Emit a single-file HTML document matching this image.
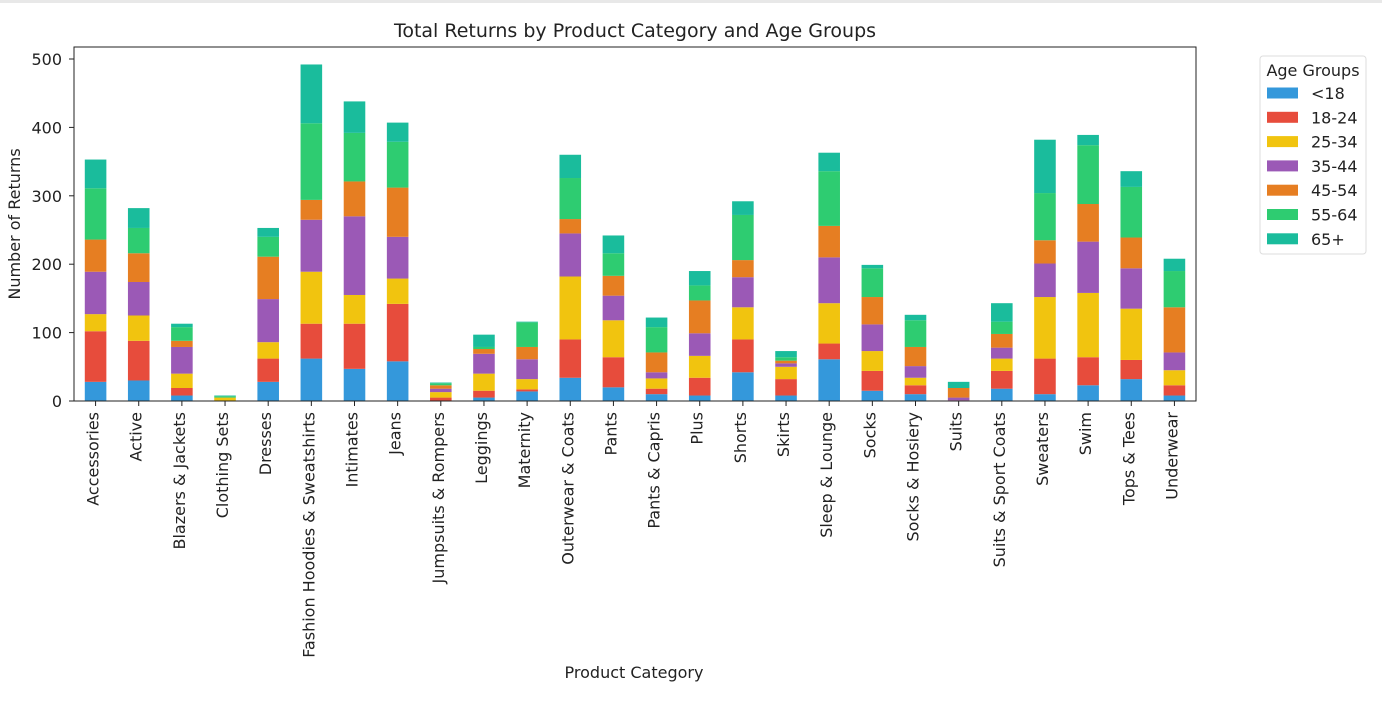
<!DOCTYPE html>
<html><head><meta charset="utf-8"><style>
body{margin:0;background:#fff;}
svg text{font-family:"DejaVu Sans","Liberation Sans",sans-serif;fill:#222;}
</style></head><body>
<div style="position:absolute;left:0;top:0;width:1382px;height:3px;background:#e8e8e8"></div>
<svg id="chart" width="1382" height="705" xmlns="http://www.w3.org/2000/svg"></svg>
<script>
const categories=["Accessories","Active","Blazers & Jackets","Clothing Sets","Dresses","Fashion Hoodies & Sweatshirts","Intimates","Jeans","Jumpsuits & Rompers","Leggings","Maternity","Outerwear & Coats","Pants","Pants & Capris","Plus","Shorts","Skirts","Sleep & Lounge","Socks","Socks & Hosiery","Suits","Suits & Sport Coats","Sweaters","Swim","Tops & Tees","Underwear"];
const seriesNames=["<18","18-24","25-34","35-44","45-54","55-64","65+"];
const sUnder18=[28,30,8,0,28,62,47,58,0,5,14,34,20,10,8,42,8,61,15,10,0,18,10,23,32,8];
const s18_24=[74,58,11,0,34,51,66,84,5,10,3,56,44,8,26,48,24,23,29,13,1,26,52,41,28,15];
const s25_34=[25,37,21,5,24,76,42,37,8,25,15,92,54,15,32,47,18,59,29,11,0,18,90,94,75,22];
const s35_44=[62,49,39,0,63,76,115,61,5,29,29,63,36,9,33,44,5,67,39,17,4,16,49,75,59,26];
const s45_54=[47,42,9,0,62,29,51,72,5,7,18,21,29,29,48,25,4,46,40,28,14,20,34,55,45,66];
const s55_64=[75,37,20,2,29,112,71,67,3,3,36,60,33,37,22,66,5,80,42,39,0,18,69,86,74,53];
const s65plus=[42,29,5,1,13,86,46,28,1,18,1,34,26,14,21,20,9,27,5,8,9,27,78,15,23,18];
const yTicks=[0,100,200,300,400,500];
const series=[sUnder18,s18_24,s25_34,s35_44,s45_54,s55_64,s65plus];
const colors=["#3498db","#e74c3c","#f1c40f","#9b59b6","#e67e22","#2ecc71","#1abc9c"];

const NS="http://www.w3.org/2000/svg";
const svg=document.getElementById('chart');
const L=74,R=1196,T=47,B=401;
const y=v=>B-v*(B-59)/500;
const step=(R-L)/categories.length;
const xc=i=>L+step*(i+0.5);
const bw=step*0.5;
function mk(tag,attrs,parent){const e=document.createElementNS(NS,tag);for(const k in attrs)e.setAttribute(k,attrs[k]);(parent||svg).appendChild(e);return e;}

const title=mk('text',{x:(L+R)/2,y:37,'text-anchor':'middle','font-size':19});
title.textContent="Total Returns by Product Category and Age Groups";



categories.forEach((c,i)=>{
  let acc=0;
  series.forEach((s,k)=>{
    const v=s[i];
    const r=mk('rect',{x:xc(i)-bw/2,y:y(acc+v),width:bw,height:y(acc)-y(acc+v),fill:colors[k]});
    
    
    acc+=v;
  });
  mk('line',{x1:xc(i),x2:xc(i),y1:B,y2:B+5,stroke:'#222','stroke-width':1});
  const t=mk('text',{x:0,y:0,'text-anchor':'end','font-size':16,transform:`translate(${xc(i)+3},${B+11}) rotate(-90)`});
  t.textContent=c;
  
  
});

yTicks.forEach(v=>{
  mk('line',{x1:L-5,x2:L,y1:y(v),y2:y(v),stroke:'#222','stroke-width':1});
  const t=mk('text',{x:L-12,y:y(v)+6,'text-anchor':'end','font-size':16});
  t.textContent=v;
  
  
});

const frame=mk('rect',{x:L,y:T,width:R-L,height:B-T,fill:'none',stroke:'#222','stroke-width':1});



const yl=mk('text',{x:0,y:0,'text-anchor':'middle','font-size':16,transform:`translate(20,${(T+B)/2}) rotate(-90)`});
yl.textContent="Number of Returns";


const xl=mk('text',{x:(L+R)/2-1,y:678,'text-anchor':'middle','font-size':16});
xl.textContent="Product Category";



const lg=mk('g',{});


mk('rect',{x:1260,y:56,width:106,height:198,rx:3,fill:'#fff',stroke:'#ddd'},lg);
const lt=mk('text',{x:1313,y:76,'text-anchor':'middle','font-size':16},lg);
lt.textContent="Age Groups";
seriesNames.forEach((n,k)=>{
  const cy=93+k*24.3;
  const g=mk('g',{},lg);
  
  
  mk('rect',{x:1267,y:cy-5.5,width:31,height:11,fill:colors[k]},g);
  const t=mk('text',{x:1311,y:cy+6,'font-size':16},g);
  t.textContent=n;
});
</script>
</body></html>
